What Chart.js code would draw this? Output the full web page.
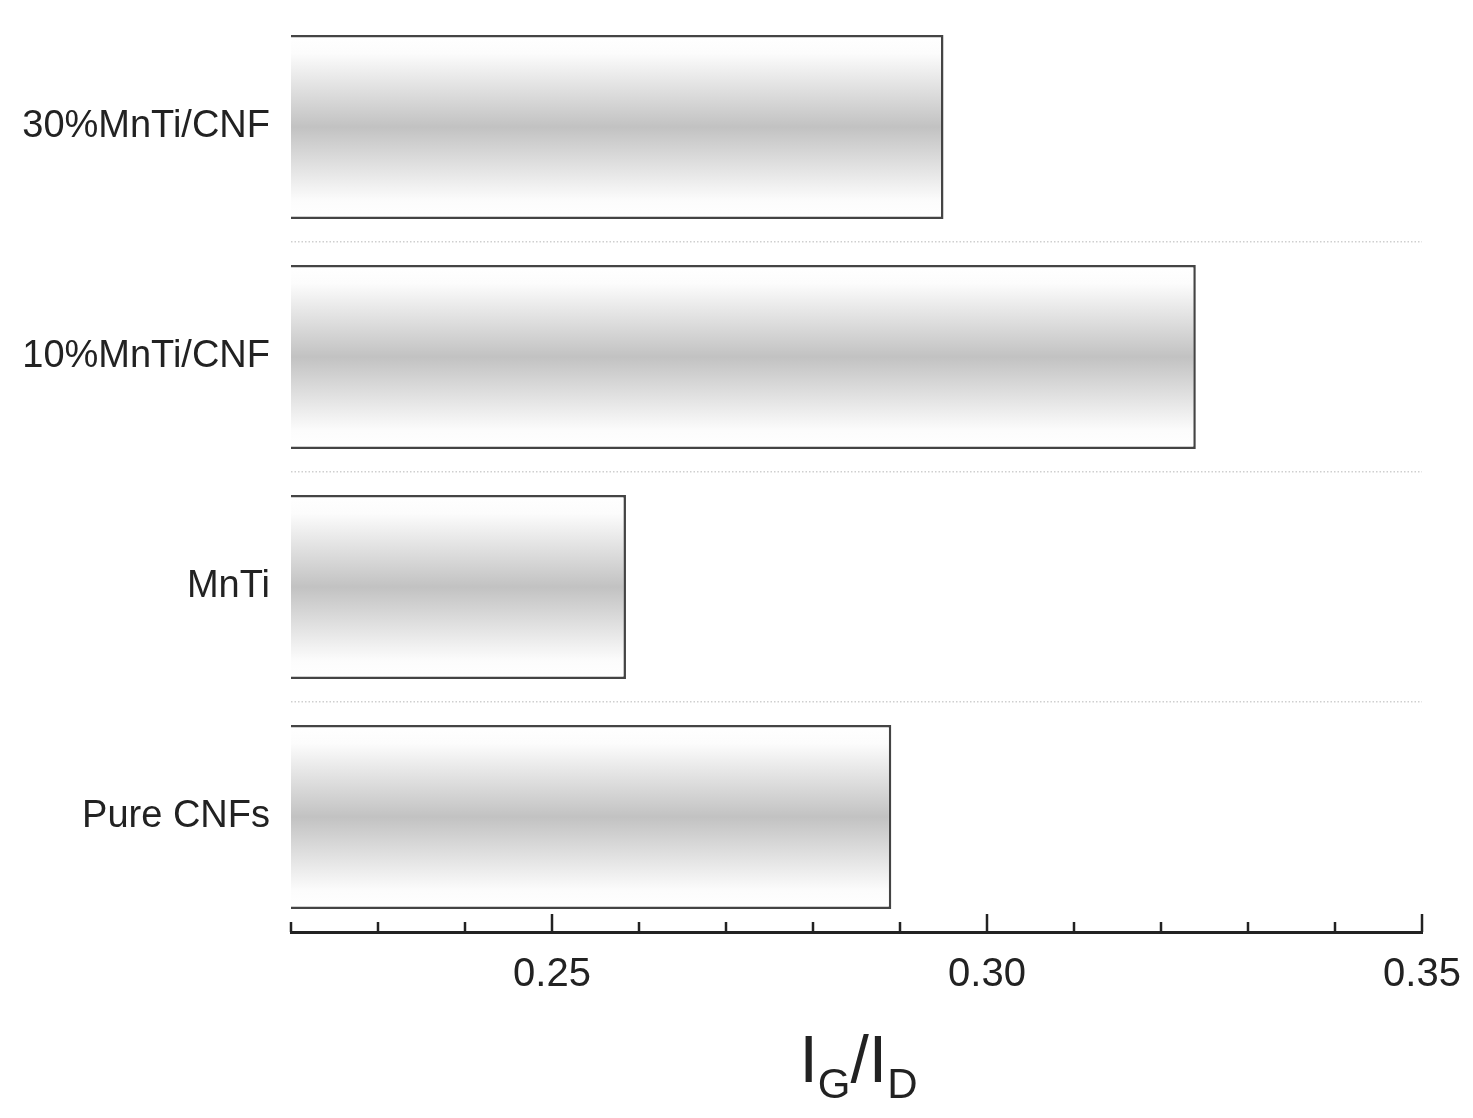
<!DOCTYPE html>
<html>
<head>
<meta charset="utf-8">
<script src="https://cdn.jsdelivr.net/npm/chart.js@4"></script>
<style>
  html, body { margin: 0; padding: 0; background: #fff; }
  #wrap { width: 1473px; height: 1118px; }
</style>
</head>
<body>
<div id="wrap"><canvas id="chart"></canvas></div>
<script>
// samples, top to bottom
var samples = ["30%MnTi/CNF", "10%MnTi/CNF", "MnTi", "Pure CNFs"];
// I_G / I_D ratio
var ratios = [0.295, 0.324, 0.2585, 0.289];
var xMin = 0.22;
var xMax = 0.35;

var FONT = '"Liberation Sans", Arial, sans-serif';

function barFill(context) {
  var chart = context.chart;
  var area = chart.chartArea;
  if (!area) return "#dddddd";
  var y = chart.scales.y;
  var mid = y.getPixelForValue(context.dataIndex);
  var half = (area.bottom - area.top) / samples.length * 0.8 / 2;
  var g = chart.ctx.createLinearGradient(0, mid - half, 0, mid + half);
  g.addColorStop(0, "#ffffff");
  g.addColorStop(0.1, "#fcfcfc");
  g.addColorStop(0.5, "#c2c2c2");
  g.addColorStop(0.9, "#fcfcfc");
  g.addColorStop(1, "#ffffff");
  return g;
}

// tick marks point up into the plot
var innerTicks = {
  id: "innerTicks",
  afterDraw: function(chart) {
    var x = chart.scales.x;
    var c = chart.ctx;
    var yb = chart.chartArea.bottom;
    c.save();
    c.strokeStyle = "#222";
    c.lineWidth = 2.5;
    x.ticks.forEach(function(t) {
      var px = x.getPixelForValue(t.value);
      var major = Math.round(t.value * 100) % 5 === 0;
      c.beginPath();
      c.moveTo(px, yb);
      c.lineTo(px, yb - (major ? 18 : 10));
      c.stroke();
    });
    c.restore();
  }
};

// axis title with subscripts: I_G/I_D
var axisTitle = {
  id: "axisTitle",
  afterDraw: function(chart) {
    var c = chart.ctx;
    var area = chart.chartArea;
    var parts = [
      { t: "I", size: 66, dy: 0 },
      { t: "G", size: 42, dy: 16 },
      { t: "/I", size: 66, dy: 0 },
      { t: "D", size: 42, dy: 16 }
    ];
    c.save();
    c.fillStyle = "#222";
    c.textBaseline = "alphabetic";
    c.textAlign = "left";
    var total = 0;
    parts.forEach(function(p) {
      c.font = p.size + "px " + FONT;
      p.w = c.measureText(p.t).width;
      total += p.w;
    });
    var x = (area.left + area.right) / 2 - total / 2 + 2;
    var base = 1082;
    parts.forEach(function(p) {
      c.font = p.size + "px " + FONT;
      c.fillText(p.t, x, base + p.dy);
      x += p.w;
    });
    c.restore();
  }
};

new Chart(document.getElementById("chart").getContext("2d"), {
  type: "bar",
  data: {
    labels: samples,
    datasets: [
      {
        data: ratios,
        backgroundColor: barFill,
        borderColor: "#444",
        borderWidth: 2.5,
        borderSkipped: false,
        categoryPercentage: 1,
        barPercentage: 0.8
      }
    ]
  },
  options: {
    indexAxis: "y",
    responsive: true,
    maintainAspectRatio: false,
    animation: false,
    layout: { padding: { top: 12, right: 51, left: 0, bottom: 0 } },
    plugins: {
      legend: { display: false },
      tooltip: { enabled: false }
    },
    scales: {
      x: {
        type: "linear",
        min: xMin,
        max: xMax,
        afterFit: function(scale) {
          scale.height = 186;
          scale.paddingLeft = 0;
          scale.paddingRight = 0;
        },
        ticks: {
          stepSize: 0.01,
          autoSkip: false,
          maxRotation: 0,
          padding: 19,
          color: "#222",
          font: { family: FONT, size: 40 },
          callback: function(v) {
            return Math.round(v * 100) % 5 === 0 ? v.toFixed(2) : "";
          }
        },
        grid: { display: false, drawTicks: false },
        border: { display: true, color: "#222", width: 3 }
      },
      y: {
        afterFit: function(scale) {
          scale.width = 291;
          scale.paddingTop = 0;
          scale.paddingBottom = 0;
        },
        ticks: {
          padding: 21,
          color: "#222",
          font: { family: FONT, size: 38 }
        },
        grid: {
          offset: true,
          drawTicks: false,
          lineWidth: 1.5,
          color: function(ctx) {
            return ctx.index === 0 || ctx.index === samples.length ? "rgba(0,0,0,0)" : "#cfcfcf";
          }
        },
        border: { display: false, dash: [1.5, 2] }
      }
    }
  },
  plugins: [innerTicks, axisTitle]
});
</script>
</body>
</html>
